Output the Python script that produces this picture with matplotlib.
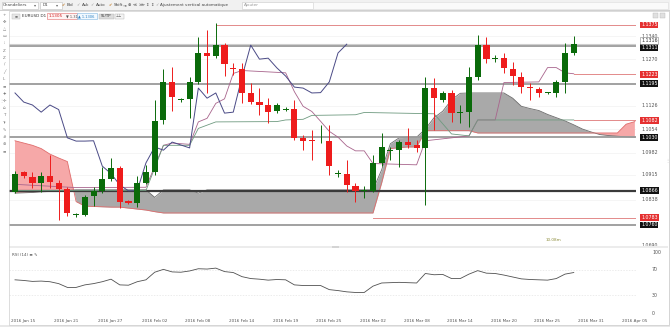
import matplotlib
matplotlib.use("Agg")
import matplotlib.pyplot as plt
import matplotlib.transforms as mtransforms
from matplotlib.patches import Rectangle
import numpy as np

plt.rcParams['font.family'] = ['DejaVu Sans', 'Noto Sans']

# ---------------- data ----------------
date_labels = ["2016 Jan 15", "2016 Jan 21", "2016 Jan 27", "2016 Feb 02", "2016 Feb 08",
               "2016 Feb 14", "2016 Feb 19", "2016 Feb 25", "2016 Mar 02", "2016 Mar 08",
               "2016 Mar 14", "2016 Mar 20", "2016 Mar 25", "2016 Mar 31", "2016 Apr 05"]
date_label_bars = [0, 5, 10, 15, 20, 25, 30, 35, 40, 45, 50, 55, 60, 65, 70]

opens = [1.0862, 1.0923, 1.0908, 1.0889, 1.0911, 1.0889, 1.0871, 1.0790, 1.0791, 1.0849,
         1.0865, 1.0901, 1.0935, 1.0834, 1.0828, 1.0889, 1.0923, 1.1083, 1.1200, 1.1143,
         1.1147, 1.1200, 1.1289, 1.1280, 1.1313, 1.1242, 1.1240, 1.1166, 1.1138, 1.1129,
         1.1110, 1.1113, 1.1117, 1.1028, 1.1019, 1.1017, 1.1018, 1.0916, 1.0917, 1.0880,
         1.0864, 1.0865, 1.0951, 1.0987, 1.0991, 1.1015, 1.1006, 1.0997, 1.1181, 1.1144,
         1.1166, 1.1104, 1.1107, 1.1215, 1.1313, 1.1270, 1.1273, 1.1240, 1.1215, 1.1183,
         1.1178, 1.1165, 1.1166, 1.1200, 1.1289]
highs = [1.0925, 1.0926, 1.0923, 1.0923, 1.0975, 1.0898, 1.0877, 1.0797, 1.0852, 1.0877,
         1.0938, 1.0966, 1.0941, 1.0837, 1.0911, 1.0945, 1.1144, 1.1240, 1.1246, 1.1150,
         1.1215, 1.1338, 1.1360, 1.1381, 1.1320, 1.1258, 1.1258, 1.1197, 1.1181, 1.1151,
         1.1135, 1.1123, 1.1144, 1.1037, 1.1052, 1.1067, 1.1067, 1.0929, 1.0960, 1.0889,
         1.0880, 1.0975, 1.1043, 1.1000, 1.1021, 1.1058, 1.1021, 1.1215, 1.1212, 1.1172,
         1.1175, 1.1129, 1.1246, 1.1344, 1.1338, 1.1283, 1.1289, 1.1261, 1.1230, 1.1197,
         1.1184, 1.1169, 1.1206, 1.1320, 1.1341]
lows = [1.0858, 1.0905, 1.0874, 1.0862, 1.0874, 1.0775, 1.0788, 1.0785, 1.0788, 1.0819,
        1.0858, 1.0895, 1.0812, 1.0825, 1.0816, 1.0886, 1.0914, 1.1071, 1.1111, 1.1138,
        1.1089, 1.1194, 1.1166, 1.1274, 1.1218, 1.1221, 1.1135, 1.1132, 1.1098, 1.1074,
        1.1104, 1.1110, 1.1020, 1.0991, 1.0960, 1.1012, 1.0914, 1.0908, 1.0862, 1.0831,
        1.0843, 1.0862, 1.0941, 1.0960, 1.0938, 1.0997, 1.0985, 1.0822, 1.1052, 1.1138,
        1.1077, 1.1074, 1.1061, 1.1206, 1.1258, 1.1261, 1.1227, 1.1190, 1.1166, 1.1144,
        1.1154, 1.1163, 1.1154, 1.1166, 1.1283]
closes = [1.0917, 1.0911, 1.0889, 1.0911, 1.0892, 1.0871, 1.0797, 1.0792, 1.0846, 1.0865,
          1.0901, 1.0935, 1.0831, 1.0828, 1.0889, 1.0923, 1.1080, 1.1200, 1.1154, 1.1146,
          1.1200, 1.1289, 1.1280, 1.1313, 1.1255, 1.1240, 1.1166, 1.1138, 1.1129, 1.1107,
          1.1129, 1.1115, 1.1028, 1.1018, 1.1018, 1.1019, 1.0941, 1.0918, 1.0883, 1.0865,
          1.0866, 1.0951, 1.1000, 1.0990, 1.1015, 1.1006, 1.0997, 1.1181, 1.1150, 1.1166,
          1.1104, 1.1107, 1.1215, 1.1313, 1.1270, 1.1273, 1.1243, 1.1218, 1.1184, 1.1181,
          1.1166, 1.1167, 1.1200, 1.1289, 1.1316]

rsi = [54, 53, 51.5, 52, 51, 48, 42, 42, 46, 48,
       51, 55, 46, 45.5, 51, 54, 66, 70.5, 66.5, 66,
       68, 71.5, 71, 72.5, 67, 65.5, 59, 56, 55, 53.5,
       54.5, 54, 46, 45, 45, 45, 38.5, 37, 35, 34,
       34, 44, 49, 49.5, 50, 49.5, 49, 64, 62, 62.5,
       56, 56, 63, 68.5, 64.5, 64, 61.5, 58.5, 55.5, 54.5,
       54, 53.5, 56, 63, 65.5]

# Ichimoku cloud spans, one value per bar (bars 0..71, the cloud runs ahead of price)
senkou_a = [1.0858, 1.0859, 1.0860, 1.0862, 1.0863, 1.0865, 1.0866, 1.0868, 1.0868, 1.0868,
            1.0868, 1.0868, 1.0868, 1.0868, 1.0868, 1.0868, 1.0845, 1.0868, 1.0868, 1.0868,
            1.0868, 1.0858, 1.0868, 1.0868, 1.0868, 1.0868, 1.0868, 1.0868, 1.0868, 1.0868,
            1.0868, 1.0868, 1.0868, 1.0868, 1.0868, 1.0868, 1.0868, 1.0868, 1.0868, 1.0868,
            1.0868, 1.0868, 1.0930, 1.1010, 1.1028, 1.1030, 1.1030, 1.1055, 1.1090, 1.1110,
            1.1145, 1.1165, 1.1166, 1.1166, 1.1166, 1.1166, 1.1166, 1.1150, 1.1125, 1.1118,
            1.1112, 1.1100, 1.1090, 1.1080, 1.1068, 1.1055, 1.1046, 1.1038, 1.1035, 1.1033,
            1.1031, 1.1030]
senkou_b = [1.1019, 1.1012, 1.1005, 1.0995, 1.0978, 1.0966, 1.0955, 1.0832, 1.0818, 1.0817,
            1.0816, 1.0815, 1.0815, 1.0812, 1.0809, 1.0806, 1.0801, 1.0797, 1.0797, 1.0797,
            1.0797, 1.0797, 1.0797, 1.0797, 1.0797, 1.0797, 1.0797, 1.0797, 1.0797, 1.0797,
            1.0797, 1.0797, 1.0797, 1.0797, 1.0797, 1.0797, 1.0797, 1.0797, 1.0797, 1.0797,
            1.0797, 1.0797, 1.0890, 1.0995, 1.0998, 1.1000, 1.1000, 1.1050, 1.1050, 1.1050,
            1.1050, 1.1050, 1.1050, 1.1043, 1.1043, 1.1043, 1.1043, 1.1043, 1.1043, 1.1043,
            1.1043, 1.1043, 1.1043, 1.1043, 1.1043, 1.1043, 1.1043, 1.1043, 1.1043, 1.1043,
            1.1070, 1.1078]

tenkan_bars = [0, 7, 15, 16, 17, 18, 20, 21, 22, 23, 24, 25, 26, 31, 32, 33, 34, 35, 36, 37,
               38, 39, 40, 41, 46, 47, 52, 53, 55, 56, 60, 61, 62, 63, 64]
tenkan_vals = [1.0885, 1.0875, 1.0876, 1.0940, 1.1005, 1.1012, 1.1008, 1.1077, 1.1088, 1.1134,
               1.1148, 1.1226, 1.1235, 1.1228, 1.1170, 1.1125, 1.1109, 1.1079, 1.1048, 1.1030,
               1.1003, 1.0988, 1.0988, 1.0949, 1.0945, 1.1019, 1.1034, 1.1083, 1.1083, 1.1198,
               1.1200, 1.1244, 1.1244, 1.1228, 1.1225]
kijun_bars = [0, 15, 16, 17, 20, 21, 23, 30, 31, 33, 34, 39, 40, 48, 49, 50, 52, 53, 64]
kijun_vals = [1.0866, 1.0866, 1.0935, 1.1005, 1.1005, 1.1057, 1.1077, 1.1078, 1.1083, 1.1085,
              1.1097, 1.1099, 1.1106, 1.1102, 1.1071, 1.1040, 1.1034, 1.1083, 1.1083]
chikou_shift = 26

gray_levels = [1.1311, 1.1195, 1.1030, 1.0760]
dark_levels = [1.0866]
red_levels = [1.1375, 1.1223, 1.1082, 1.0783]
red_level_start = [23, 64, 64, 41]
current_price = 1.1316
price_ticks = [1.1340, 1.1270, 1.1126, 1.1054, 1.0982, 1.0915, 1.0838, 1.0690]
rsi_ticks = [100, 70, 30, 0]
rsi_levels = [70, 30]

# ---------------- layout helpers ----------------
W, H = 670, 327
fig = plt.figure(figsize=(W / 100, H / 100), dpi=100)
fig.patch.set_facecolor('white')


def fx(p):
    return p / W


def fy(p):
    return 1 - p / H


def rect(x0, y0, x1, y1, fc, ec='none', lw=0.6, z=0):
    fig.patches.append(Rectangle((fx(x0), fy(y1)), (x1 - x0) / W, (y1 - y0) / H,
                                 transform=fig.transFigure, fc=fc, ec=ec, lw=lw, zorder=z))


def ftxt(x, y, s, size=3.4, color='#444444', ha='left', **kw):
    fig.text(fx(x), fy(y), s, fontsize=size, color=color, ha=ha, va='center', **kw)


GREEN = '#0a6a0a'
RED = '#ee1c1c'
SMALL = 3.4

# ---------------- toolbar ----------------
rect(0, 0, 670, 10.5, '#f1f1f1')
rect(0, 10.5, 670, 11.2, '#d0d0d0')
rect(1.5, 1.5, 38, 8.8, 'white', ec='#bdbdbd', lw=0.4)
ftxt(3, 5.2, 'Chandeliers', size=3.0)
ftxt(33.5, 5.2, '▾', size=3.0, color='#666666')
rect(40, 1.5, 62, 8.8, 'white', ec='#bdbdbd', lw=0.4)
ftxt(43, 5.2, 'D1', size=3.0)
ftxt(55.5, 5.2, '▾', size=3.0, color='#666666')
tool_items = [(62, '✔', '#c07820'), (67, 'Bid', '#444444'), (76, '✓', '#999999'), (82, 'Ask', '#444444'),
              (90, '✓', '#999999'), (96, 'Auto', '#444444'), (109, '✔', '#c07820'), (114, 'Shift', '#444444'),
              (123, '⇥', '#444444'), (128, '⊕', '#444444'), (133, '≪', '#444444'), (139, '⋙', '#444444'),
              (145, '⇕', '#444444'), (150, '⇕', '#444444'), (155, '✓', '#999999'),
              (160, 'Ajustement vertical automatique', '#444444')]
for xx, s, c in tool_items:
    ftxt(xx, 5.2, s, size=3.0, color=c)
rect(242, 1.5, 313, 8.8, 'white', ec='#c8c8c8', lw=0.4)
ftxt(244, 5.2, 'Ajouter', size=3.0, color='#999999')
rect(313, 1.5, 668, 8.8, '#fafafa', ec='#dddddd', lw=0.4)

# chart frame and left toolbar
rect(8.5, 11.2, 668.5, 324.5, 'none', ec='#cfcfcf', lw=0.5, z=5)
rect(668.5, 11.2, 670, 327, '#e4e4e4')
rect(0, 324.5, 670, 327, '#e8e8e8')
left_icons = ['+', '✥', '△', '▭', '⁞', 'Z', 'Z', '∕', '╱', 'L', '≡', '✦', '✢', '⌂', 'T', 'Tr', '✎', '#', '⊛', '≡']
for i, s in enumerate(left_icons):
    ftxt(4.2, 14.5 + 7.2 * i, s, size=3.0, color='#7a7a7a', ha='center')
ftxt(1.2, 100, '⋮', size=3.0, color='#aaaaaa', ha='center')
ftxt(667, 160, '⋮', size=3.0, color='#aaaaaa', ha='center')

# chart header row
rect(12.5, 13.5, 20, 18.8, '#e6e6e6', ec='#bbbbbb', lw=0.3)
ftxt(16.2, 16.2, '≡', size=2.6, color='#555555', ha='center')
ftxt(22, 16.2, 'EURUSD D1', size=3.0, color='#333333')
rect(47, 13.3, 77, 19, '#fff4f4', ec='#e06a6a', lw=0.4)
ftxt(49, 16.2, '1.1305', size=3.0, color='#d02020')
ftxt(66, 16.2, '▼ 1.31', size=2.6, color='#555555')
rect(77, 13.3, 97, 19, '#f2f9ff', ec='#7fb6e0', lw=0.4)
ftxt(78, 16.2, '▲ 1.1306', size=2.6, color='#2a7fc0')
rect(99, 13.5, 113.5, 18.8, '#dcdcdc', ec='#b0b0b0', lw=0.3)
ftxt(100.5, 16.2, 'SL/TP', size=2.8, color='#333333')
rect(115, 13.5, 123.5, 18.8, '#f4f4f4', ec='#b0b0b0', lw=0.3)
ftxt(119.2, 16.2, '⊥⊥', size=2.6, color='#555555', ha='center')
rect(653, 13, 658, 17.5, '#e0e0e0', ec='#b8b8b8', lw=0.3)
rect(659.5, 13, 664.5, 17.5, '#e0e0e0', ec='#b8b8b8', lw=0.3)

# ---------------- main price panel ----------------
XL = (-0.687, 71.13)
ax = fig.add_axes([fx(9), fy(246), (636 - 9) / W, (246 - 13) / H])
ax.set_xlim(*XL)
ax.set_ylim(1.06954, 1.14119)
ax.axis('off')

for v in price_ticks:
    ax.axhline(v, color='#f1f1f1', lw=0.5, zorder=0)

xb = np.arange(len(senkou_a))
A = np.array(senkou_a)
B = np.array(senkou_b)
ax.fill_between(xb, A, B, where=A >= B, interpolate=True, color='#a9a9a9', lw=0, zorder=1)
ax.fill_between(xb, A, B, where=A < B, interpolate=True, color='#f6a8a8', lw=0, zorder=1)
ax.plot(xb, A, color='#6c6c6c', lw=0.6, zorder=2)
ax.plot(xb, B, color='#e06c6c', lw=0.6, zorder=2)

for v in gray_levels:
    ax.axhline(v, color='#9a9a9a', lw=1.3, zorder=3)
for v in dark_levels:
    ax.axhline(v, color='#3a3a3a', lw=1.6, zorder=3)
ax.axhline(current_price, color='#cfcfcf', lw=0.8, zorder=3)
for v, s in zip(red_levels, red_level_start):
    ax.plot([s, XL[1]], [v, v], color='#e38a8a', lw=0.7, zorder=3)

ax.plot(tenkan_bars, tenkan_vals, color='#a8648c', lw=0.6, zorder=4)
ax.plot(kijun_bars, kijun_vals, color='#6f9a80', lw=0.6, zorder=4)
cl = np.array(closes)
ax.plot(np.arange(len(cl) - chikou_shift), cl[chikou_shift:], color='#4a4a86', lw=0.7, zorder=4)

o = np.array(opens)
h = np.array(highs)
lo = np.array(lows)
xc = np.arange(len(o))
cols = np.where(cl >= o, GREEN, RED)
ax.vlines(xc, lo, h, colors=cols, lw=0.7, zorder=5)
body_h = np.maximum(np.abs(cl - o), 0.00025)
ax.bar(xc, body_h, bottom=np.minimum(o, cl), width=0.7, color=cols, lw=0, zorder=6)

# price axis labels (small pixel offsets keep neighbouring labels apart)
tr = mtransforms.blended_transform_factory(fig.transFigure, ax.transData)


def price_label(v, dy_px, **kw):
    t = mtransforms.offset_copy(tr, fig=fig, x=0, y=dy_px * 0.72, units='points')
    ax.text(fx(641), v, f'{v:.4f}', transform=t, fontsize=SMALL, va='center', ha='left',
            clip_on=False, **kw)


for v in price_ticks:
    price_label(v, 2.5 if v == price_ticks[-1] else 0, color='#555555')
for v in red_levels:
    price_label(v, 0, color='white', bbox=dict(boxstyle='square,pad=0.2', fc='#e53030', ec='none'))
for v in gray_levels + dark_levels:
    price_label(v, -1.6 if v == 1.1311 else 0, color='white',
                bbox=dict(boxstyle='square,pad=0.2', fc='#111111', ec='none'))
price_label(current_price, 3.6, color='#333333', zorder=7,
            bbox=dict(boxstyle='square,pad=0.2', fc='white', ec='#888888', lw=0.4))

ftxt(546, 240, '10.08m', size=3.0, color='#8c8c3a')

# separator
rect(9, 245.6, 668, 248, '#ececec')
rect(332, 245.8, 339, 247.8, '#d4d4d4')

# ---------------- RSI panel ----------------
ax2 = fig.add_axes([fx(9), fy(317), (636 - 9) / W, (317 - 248) / H])
ax2.set_xlim(*XL)
ax2.set_ylim(-4.74, 104.27)
ax2.axis('off')
for v in rsi_levels:
    ax2.axhline(v, color='#e4e4e4', lw=0.5, ls=(0, (2, 2)), zorder=0)
ax2.plot(np.arange(len(rsi)), rsi, color='#505050', lw=0.6, zorder=3)
ax2.text(0.005, 0.9, 'RSI (14) ≡ ✎', transform=ax2.transAxes, fontsize=3.0, color='#555555',
         va='center', ha='left')
tr2 = mtransforms.blended_transform_factory(fig.transFigure, ax2.transData)
for v in rsi_ticks:
    t2 = mtransforms.offset_copy(tr2, fig=fig, x=0, y=(-1.2 if v == 100 else 0), units='points')
    ax2.text(fx(652), v, str(v), transform=t2, fontsize=SMALL, color='#555555',
             va='center', ha='left', clip_on=False)

trx = mtransforms.blended_transform_factory(ax2.transData, fig.transFigure)
for b, s in zip(date_label_bars, date_labels):
    ax2.text(b - 0.5, fy(321), s, transform=trx, fontsize=3.0, color='#555555',
             va='center', ha='left', clip_on=False)

fig.savefig('out.png', dpi=100, facecolor='white')
